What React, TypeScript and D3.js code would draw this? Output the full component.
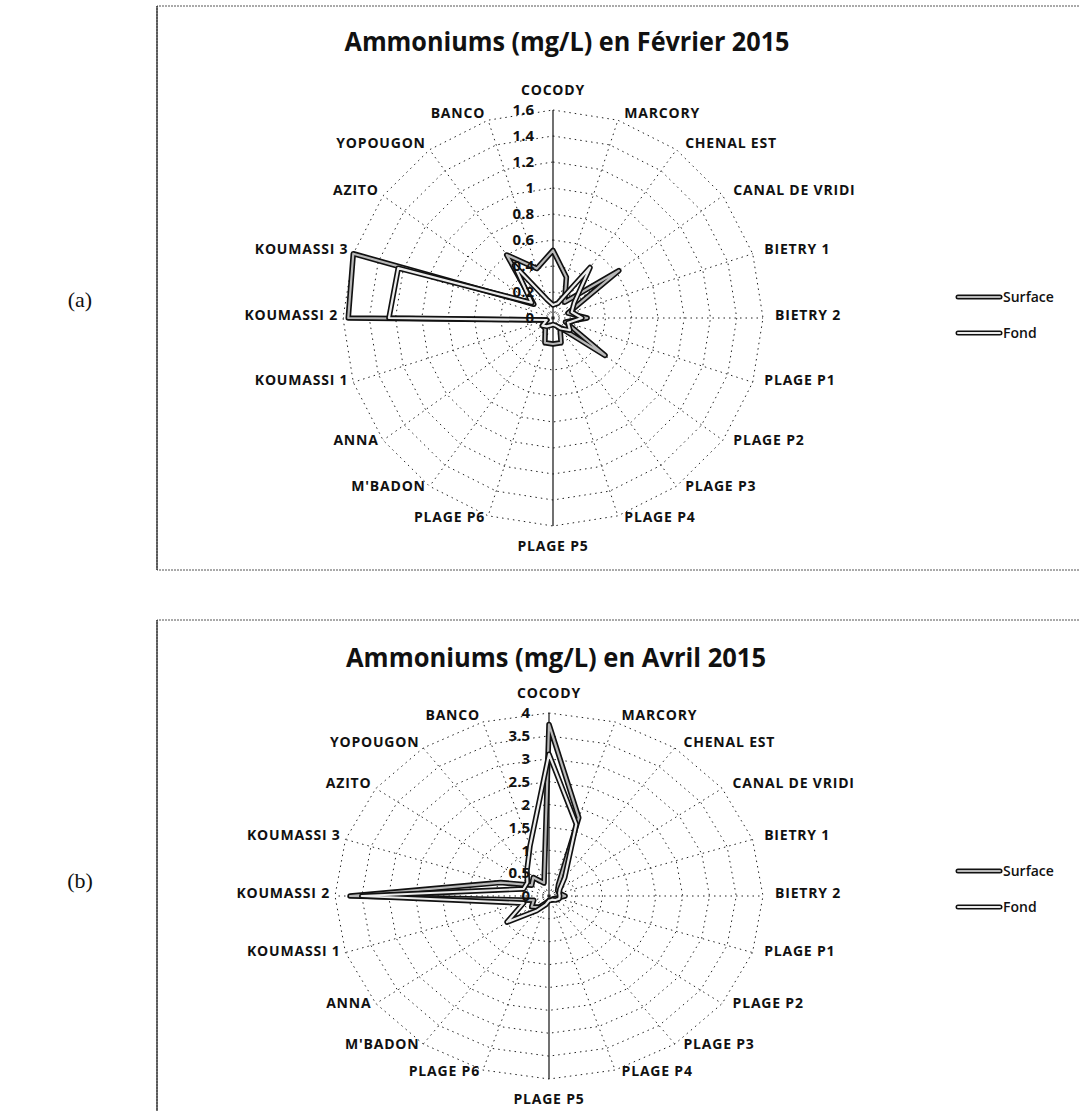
import React from 'react';
import * as d3 from 'd3';

// stations, clockwise from the top
const categories = [
  'COCODY', 'MARCORY', 'CHENAL EST', 'CANAL DE VRIDI', 'BIETRY 1', 'BIETRY 2',
  'PLAGE P1', 'PLAGE P2', 'PLAGE P3', 'PLAGE P4', 'PLAGE P5', 'PLAGE P6',
  "M'BADON", 'ANNA', 'KOUMASSI 1', 'KOUMASSI 2', 'KOUMASSI 3', 'AZITO', 'YOPOUGON', 'BANCO',
];

// Février 2015
const febSurface = [0.52, 0.33, 0.15, 0.62, 0.12, 0.26, 0.1, 0.49, 0.09, 0.2, 0.2, 0.2, 0.1, 0.1, 0.05, 1.56, 1.6, 0.18, 0.6, 0.4];
const febFond = [0.1, 0.12, 0.48, 0.2, 0.15, 0.22, 0.12, 0.16, 0.1, 0.06, 0.05, 0.06, 0.08, 0.1, 0.05, 1.25, 1.24, 0.2, 0.5, 0.15];
const febTicks = [0, 0.2, 0.4, 0.6, 0.8, 1, 1.2, 1.4, 1.6];

// Avril 2015
const aprSurface = [3.75, 1.8, 0.3, 0.2, 0.2, 0.3, 0.15, 0.1, 0.1, 0.1, 0.1, 0.15, 0.3, 0.4, 0.3, 3.72, 0.95, 0.4, 0.5, 0.3];
const aprFond = [3.1, 1.65, 0.5, 0.25, 0.2, 0.2, 0.2, 0.15, 0.1, 0.1, 0.1, 0.2, 0.4, 0.97, 0.5, 3.5, 0.5, 0.5, 0.7, 1.15];
const aprTicks = [0, 0.5, 1, 1.5, 2, 2.5, 3, 3.5, 4];

const seriesNames = ['Surface', 'Fond'];
const innerColors = ['#b8b8b8', '#ececec'];

const sans = "'Open Sans', 'Noto Sans', sans-serif";

interface RadarProps {
  title: string;
  titleX: number;
  titleY: number;
  titleWidth: number;
  cx: number;
  cy: number;
  rx: number;
  ry: number;
  ticks: number[];
  series: number[][];
  legendY: number;
}

const Radar: React.FC<RadarProps> = ({ title, titleX, titleY, titleWidth, cx, cy, rx, ry, ticks, series, legendY }) => {
  const max = ticks[ticks.length - 1];
  const r = d3.scaleLinear().domain([0, max]).range([0, 1]);
  const angle = d3.scaleLinear().domain([0, categories.length]).range([0, 2 * Math.PI]);

  const pt = (i: number, v: number): [number, number] => {
    const a = angle(i);
    return [cx + Math.sin(a) * r(v) * rx, cy - Math.cos(a) * r(v) * ry];
  };

  const line = d3.line<number>()
    .x((v, i) => pt(i, v)[0])
    .y((v, i) => pt(i, v)[1])
    .curve(d3.curveLinearClosed);

  const ringLine = (t: number) => line(categories.map(() => t)) || '';

  return (
    <g>
      <text x={titleX} y={titleY} textAnchor="middle" fontFamily={sans} fontWeight={700} fontSize={27}
        textLength={titleWidth} lengthAdjust="spacingAndGlyphs" fill="#111">{title}</text>

      {/* grid rings */}
      {ticks.filter(t => t > 0).map(t => (
        <path key={t} d={ringLine(t)} fill="none" stroke="#222" strokeWidth={1} strokeDasharray="1.5 4" />
      ))}

      {/* spokes */}
      {categories.map((c, i) => {
        const [x, y] = pt(i, max);
        const solid = i === 0 || i === 10;
        return (
          <line key={c} x1={cx} y1={cy} x2={x} y2={y} stroke={solid ? '#111' : '#222'}
            strokeWidth={solid ? 1.2 : 1} strokeDasharray={solid ? undefined : '1.5 4'} />
        );
      })}

      {/* series, drawn as hollow lines */}
      {series.map((s, k) => (
        <g key={k}>
          <path d={line(s) || ''} fill="none" stroke="#111" strokeWidth={5.5} strokeLinejoin="round" />
          <path d={line(s) || ''} fill="none" stroke={innerColors[k]} strokeWidth={2.2} strokeLinejoin="round" />
        </g>
      ))}

      {/* value axis labels */}
      {ticks.map(t => (
        <text key={t} x={cx - 19} y={pt(0, t)[1]} dy="0.35em" textAnchor="end" fontFamily={sans}
          fontWeight={700} fontSize={15} fill="#111">{String(t)}</text>
      ))}

      {/* category labels */}
      {categories.map((c, i) => {
        const a = angle(i);
        const s = Math.sin(a);
        const co = Math.cos(a);
        const [px, py] = pt(i, max);
        let anchor = 'middle';
        let lx = px;
        let ly = py - 3 - 4 * co;
        if (Math.abs(s) < 0.01) {
          ly = py - 20 * co;
        } else if (s > 0) {
          anchor = 'start';
          lx = px + 4 + 8 * s;
        } else {
          anchor = 'end';
          lx = px - 2 + 3 * s;
        }
        return (
          <text key={c} x={lx} y={ly} dy="0.35em" textAnchor={anchor} fontFamily={sans} fontWeight={700}
            fontSize={14} letterSpacing={0.8} fill="#111">{c}</text>
        );
      })}

      {/* legend */}
      {seriesNames.map((n, k) => {
        const y = legendY + k * 36;
        return (
          <g key={n}>
            <line x1={958} x2={1000} y1={y} y2={y} stroke="#111" strokeWidth={5} strokeLinecap="round" />
            <line x1={958} x2={1000} y1={y} y2={y} stroke={innerColors[k]} strokeWidth={2} strokeLinecap="round" />
            <text x={1003} y={y} dy="0.35em" fontFamily={sans} fontWeight={600} fontSize={14} fill="#111">{n}</text>
          </g>
        );
      })}
    </g>
  );
};

export default function App() {
  return (
    <div style={{ position: 'absolute', left: 0, top: 0 }}>
      <svg width={1079} height={1111} style={{ display: 'block', background: '#fff' }}>
        {/* frames */}
        <path d="M1079,6 H157 V570 H1079" fill="none" stroke="#555" strokeWidth={1} strokeDasharray="2 1" />
        <path d="M1079,620 H157 V1111" fill="none" stroke="#555" strokeWidth={1} strokeDasharray="2 1" />
        <line x1={157} x2={157} y1={6} y2={570} stroke="#222" strokeWidth={1.2} />
        <line x1={157} x2={157} y1={620} y2={1111} stroke="#222" strokeWidth={1.2} />

        <text x={80} y={307} textAnchor="middle" fontFamily="'Liberation Serif', serif" fontSize={22} fill="#111">(a)</text>
        <text x={80} y={888} textAnchor="middle" fontFamily="'Liberation Serif', serif" fontSize={22} fill="#111">(b)</text>

        <Radar title="Ammoniums (mg/L) en Février 2015" titleX={567} titleY={51} titleWidth={445}
          cx={553} cy={318} rx={210} ry={208} ticks={febTicks} series={[febSurface, febFond]} legendY={297} />
        <Radar title="Ammoniums (mg/L) en Avril 2015" titleX={556} titleY={667} titleWidth={420}
          cx={549} cy={896} rx={214} ry={183} ticks={aprTicks} series={[aprSurface, aprFond]} legendY={871} />
      </svg>
    </div>
  );
}
